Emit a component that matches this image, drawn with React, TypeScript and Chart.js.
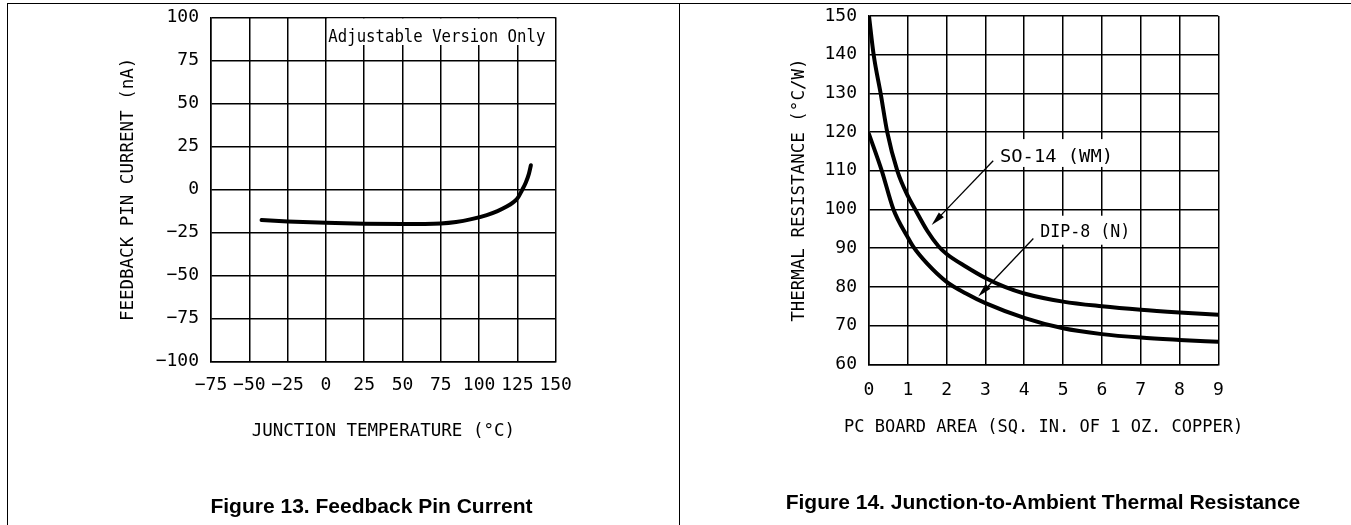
import React, { useEffect, useRef } from "react";
import { Chart, registerables } from "chart.js";

Chart.register(...registerables);

const MONO = "'DejaVu Sans Mono', monospace";

// ---------- Figure 13: Feedback Pin Current ----------
const fbTempTicks = [-75, -50, -25, 0, 25, 50, 75, 100, 125, 150];
const fbCurrentTicks = [-100, -75, -50, -25, 0, 25, 50, 75, 100];
const fbTemp = [-42, -25, 0, 25, 50, 75, 85, 95, 105, 112, 118, 122, 125, 128, 130.5, 132.5, 133.8];
const fbCurrent = [-17.8, -18.6, -19.4, -19.9, -20.1, -19.8, -19.0, -17.3, -14.9, -12.6, -10.0, -7.7, -5.2, -0.5, 4, 9, 14];

// ---------- Figure 14: Junction-to-Ambient Thermal Resistance ----------
const areaTicks = [0, 1, 2, 3, 4, 5, 6, 7, 8, 9];
const rthTicks = [60, 70, 80, 90, 100, 110, 120, 130, 140, 150];
const soArea = [0, 0.12, 0.3, 0.47, 0.73, 1, 1.19, 1.5, 1.79, 2, 2.5, 3, 3.5, 4, 5, 6, 7, 8, 9];
const soRth = [150, 140, 130, 120, 110, 103.5, 100, 94.5, 90.5, 88.5, 85.2, 82.3, 80, 78.3, 76.2, 75, 74.1, 73.4, 72.8];
const dipArea = [0, 0.33, 0.63, 1, 1.14, 1.5, 2, 2.5, 3, 4, 5, 6, 7, 8, 9];
const dipRth = [119.5, 110, 100, 92.8, 90.4, 86, 81.3, 78.3, 75.8, 72, 69.3, 67.8, 66.9, 66.3, 65.8];

type Note = { text: string; x: number; y: number; width: number; box: [number, number, number, number] };
type Arrow = { from: [number, number]; to: [number, number] };
type BottomTitle = { text: string; size: number; offset: number } | null;

function notesPlugin(notes: Note[], arrows: Arrow[], bottomTitle: BottomTitle) {
  return {
    id: "notes",
    afterDatasetsDraw(chart: any) {
      const { ctx, chartArea } = chart;
      const xs = chart.scales.x;
      const ys = chart.scales.y;
      ctx.save();
      for (const n of notes) {
        const bx0 = xs.getPixelForValue(n.box[0]) + 1.2;
        const bx1 = xs.getPixelForValue(n.box[1]) - 1.2;
        const by0 = ys.getPixelForValue(n.box[3]) + 1.2;
        const by1 = ys.getPixelForValue(n.box[2]);
        ctx.fillStyle = "#fff";
        ctx.fillRect(bx0, by0, bx1 - bx0, by1 - by0);
        ctx.font = `18px ${MONO}`;
        const w = ctx.measureText(n.text).width;
        ctx.save();
        ctx.translate(xs.getPixelForValue(n.x), ys.getPixelForValue(n.y));
        ctx.scale(n.width / w, 1);
        ctx.fillStyle = "#000";
        ctx.textBaseline = "alphabetic";
        ctx.textAlign = "left";
        ctx.fillText(n.text, 0, 0);
        ctx.restore();
      }
      for (const a of arrows) {
        const x1 = xs.getPixelForValue(a.from[0]);
        const y1 = ys.getPixelForValue(a.from[1]);
        const x2 = xs.getPixelForValue(a.to[0]);
        const y2 = ys.getPixelForValue(a.to[1]);
        const ang = Math.atan2(y2 - y1, x2 - x1);
        const L = 14;
        const H = 3.5;
        ctx.strokeStyle = "#000";
        ctx.lineWidth = 1.3;
        ctx.beginPath();
        ctx.moveTo(x1, y1);
        ctx.lineTo(x2 - Math.cos(ang) * L * 0.8, y2 - Math.sin(ang) * L * 0.8);
        ctx.stroke();
        ctx.fillStyle = "#000";
        ctx.beginPath();
        ctx.moveTo(x2, y2);
        ctx.lineTo(x2 - Math.cos(ang) * L - Math.sin(ang) * H, y2 - Math.sin(ang) * L + Math.cos(ang) * H);
        ctx.lineTo(x2 - Math.cos(ang) * L + Math.sin(ang) * H, y2 - Math.sin(ang) * L - Math.cos(ang) * H);
        ctx.closePath();
        ctx.fill();
      }
      if (bottomTitle) {
        ctx.font = `${bottomTitle.size}px ${MONO}`;
        ctx.fillStyle = "#000";
        ctx.textAlign = "center";
        ctx.textBaseline = "middle";
        ctx.fillText(
          bottomTitle.text,
          (chartArea.left + chartArea.right) / 2,
          chartArea.bottom + bottomTitle.offset
        );
      }
      ctx.restore();
    },
  };
}

const fmt = (v: any) => String(v).replace("-", "\u2212");

function axis(
  ticks: number[],
  title: string | null,
  isY: boolean,
  size: number,
  tickPad: number,
  titlePad: number
) {
  return {
    type: "linear",
    min: ticks[0],
    max: ticks[ticks.length - 1],
    afterBuildTicks: (s: any) => {
      s.ticks = ticks.map((v) => ({ value: v }));
    },
    afterFit: (s: any) => {
      if (isY) s.width = size;
      else s.height = size;
      s.paddingTop = 0;
      s.paddingBottom = 0;
      s.paddingLeft = 0;
      s.paddingRight = 0;
    },
    grid: { color: "#000", lineWidth: 1.5, drawTicks: false },
    border: { color: "#000", width: 1.5 },
    ticks: {
      autoSkip: false,
      maxRotation: 0,
      minRotation: 0,
      padding: tickPad,
      color: "#000",
      font: { family: MONO, size: 18 },
      callback: (v: any) => fmt(v),
    },
    title: {
      display: !!title,
      text: title || "",
      color: "#000",
      font: { family: MONO, size: 17.5 },
      padding: isY ? { top: titlePad, bottom: 0 } : { top: 0, bottom: titlePad },
    },
  };
}

function ChartCanvas({ config, left, width }: { config: any; left: number; width: number }) {
  const ref = useRef<HTMLCanvasElement | null>(null);
  useEffect(() => {
    if (!ref.current) return;
    const chart = new Chart(ref.current, config);
    return () => chart.destroy();
  }, []);
  return (
    <canvas
      ref={ref}
      width={width}
      height={525}
      style={{ position: "absolute", left, top: 0, width, height: 525 }}
    />
  );
}

const commonOptions = {
  responsive: false,
  animation: false,
  devicePixelRatio: 1,
  plugins: { legend: { display: false }, tooltip: { enabled: false } },
};

const lineStyle = {
  borderColor: "#000",
  borderWidth: 4,
  pointRadius: 0,
  fill: false,
  cubicInterpolationMode: "monotone",
  borderCapStyle: "round",
};

const fig13Config = {
  type: "line",
  data: {
    datasets: [
      {
        ...lineStyle,
        data: fbTemp.map((t, i) => ({ x: t, y: fbCurrent[i] })),
      },
    ],
  },
  options: {
    ...commonOptions,
    layout: { padding: { left: 0, top: 17.3, right: 123.3, bottom: 63.5 } },
    scales: {
      x: axis(fbTempTicks, "JUNCTION TEMPERATURE (°C)", false, 100, 12.7, 19.3),
      y: axis(fbCurrentTicks, "FEEDBACK PIN CURRENT (nA)", true, 211, 12, 117.5),
    },
  },
  plugins: [
    notesPlugin(
      [{ text: "Adjustable Version Only", x: 1.6, y: 85.8, width: 217, box: [0, 150, 83.9, 100] }],
      [],
      null
    ),
  ],
};

const fig14Config = {
  type: "line",
  data: {
    datasets: [
      { ...lineStyle, data: soArea.map((a, i) => ({ x: a, y: soRth[i] })) },
      { ...lineStyle, data: dipArea.map((a, i) => ({ x: a, y: dipRth[i] })) },
    ],
  },
  options: {
    ...commonOptions,
    layout: { padding: { left: 0, top: 16, right: 132.7, bottom: 60.7 } },
    scales: {
      x: axis(areaTicks, null, false, 100, 14.9, 0),
      y: axis(rthTicks, "THERMAL RESISTANCE (°C/W)", true, 190, 12, 109.5),
    },
  },
  plugins: [
    notesPlugin(
      [
        { text: "SO-14 (WM)", x: 3.375, y: 112.4, width: 113, box: [3.15, 6.45, 111, 118.5] },
        { text: "DIP-8 (N)", x: 4.41, y: 92.8, width: 90, box: [4.3, 6.8, 90.9, 98.7] },
      ],
      [
        { from: [3.2, 112.6], to: [1.615, 96.0] },
        { from: [4.235, 92.5], to: [2.816, 77.5] },
      ],
      { text: "PC BOARD AREA (SQ. IN. OF 1 OZ. COPPER)", size: 17, offset: 63 }
    ),
  ],
};

const captionStyle: React.CSSProperties = {
  position: "absolute",
  fontFamily: "'Liberation Sans', Arial, sans-serif",
  fontWeight: "bold",
  fontSize: 21,
  lineHeight: "21px",
  textAlign: "center",
  whiteSpace: "nowrap",
  color: "#000",
};

export default function App() {
  return (
    <div style={{ position: "absolute", left: 0, top: 0, width: 1351, height: 525, overflow: "hidden", background: "#fff" }}>
      <div style={{ position: "absolute", left: 7, top: 3, width: 1344, height: 1.3, background: "#000" }} />
      <div style={{ position: "absolute", left: 6.5, top: 3, width: 1.3, height: 522, background: "#000" }} />
      <div style={{ position: "absolute", left: 678.5, top: 3, width: 1.3, height: 522, background: "#000" }} />
      <ChartCanvas config={fig13Config} left={0} width={679} />
      <ChartCanvas config={fig14Config} left={679} width={672} />
      <div style={{ ...captionStyle, left: 171.5, width: 400, top: 494.9 }}>Figure 13. Feedback Pin Current</div>
      <div style={{ ...captionStyle, left: 743, width: 600, top: 491.2 }}>Figure 14. Junction-to-Ambient Thermal Resistance</div>
    </div>
  );
}
